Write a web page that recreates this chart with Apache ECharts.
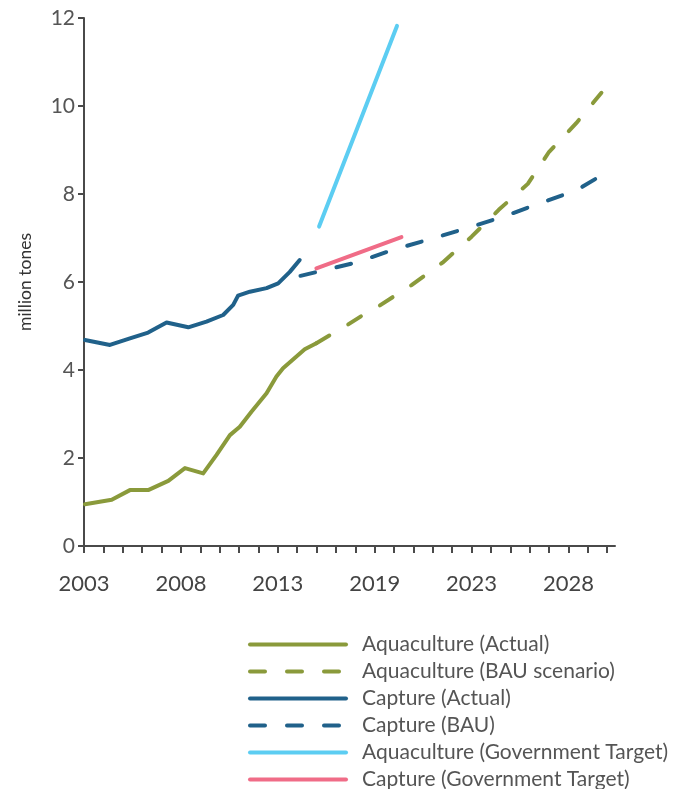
<!DOCTYPE html>
<html>
<head>
<meta charset="utf-8">
<script src="https://cdn.jsdelivr.net/npm/echarts@6/dist/echarts.min.js"></script>
<style>
html,body{margin:0;padding:0;background:#fff;}
#c{width:681px;height:789px;}
</style>
</head>
<body>
<div id="c"></div>
<script>
// ---- data (year, million tones) ----
const aquaActual = [
  [2003.05,0.95],[2004.43,1.05],[2005.37,1.27],[2006.31,1.27],[2007.35,1.48],
  [2008.21,1.77],[2009.15,1.65],[2009.84,2.07],[2010.53,2.52],[2011.04,2.71],
  [2011.64,3.05],[2012.42,3.47],[2012.93,3.85],[2013.27,4.04],[2014.39,4.47],[2014.99,4.61]
];
const aquaBAU = [
  [2014.99,4.61],[2016.5,5.0],[2017.4,5.25],[2018.2,5.45],[2019.9,5.93],[2021.5,6.44],
  [2023.0,7.03],[2024.4,7.64],[2025.9,8.23],[2027.0,8.96],[2028.4,9.61],[2029.7,10.30]
];
const captureActual = [
  [2003.05,4.68],[2004.34,4.57],[2005.37,4.72],[2006.31,4.85],[2007.26,5.08],
  [2008.38,4.97],[2009.32,5.10],[2010.18,5.25],[2010.70,5.48],[2010.95,5.69],
  [2011.56,5.78],[2012.42,5.86],[2013.02,5.97],[2013.62,6.23],[2014.13,6.50]
];
const captureBAU = [
  [2014.17,6.14],[2017.02,6.44],[2018.94,6.73],[2020.84,6.97],[2022.73,7.22],
  [2024.61,7.48],[2026.51,7.79],[2028.40,8.08],[2029.46,8.36]
];
const aquaTarget = [[2015.13,7.26],[2019.15,11.82]];
const captureTarget = [[2014.99,6.31],[2019.38,7.02]];

const xTickYears = [2003, 2008, 2013, 2018, 2023, 2028];
const xTickLabels = ['2003', '2008', '2013', '2019', '2023', '2028'];
const seriesNames = [
  'Aquaculture (Actual)', 'Aquaculture (BAU scenario)', 'Capture (Actual)',
  'Capture (BAU)', 'Aquaculture (Government Target)', 'Capture (Government Target)'
];

const GREEN = '#8a9a3b', DARK = '#20618a', LIGHT = '#5ccdf2', PINK = '#f06c87';
const FONT = 'Lato';

function mk(name, data, color, dashed, z) {
  return {
    name: name, type: 'line', data: data, symbol: 'none', smooth: false, z: z,
    lineStyle: { color: color, width: 4, cap: 'round', join: 'round',
                 type: dashed ? [15, 22] : 'solid' },
    itemStyle: { color: color },
    emphasis: { disabled: true }, animation: false
  };
}

const chart = echarts.init(document.getElementById('c'), null, { renderer: 'canvas' });
chart.setOption({
  backgroundColor: '#fff',
  animation: false,
  grid: { left: 84, right: 66, top: 18, bottom: 243, containLabel: false },
  xAxis: {
    type: 'value', min: 2003, max: 2030.4, interval: 1,
    axisLine: { show: true, onZero: false, lineStyle: { color: '#4a4a4a', width: 2 } },
    axisTick: { show: true, length: 7, lineStyle: { color: '#4a4a4a', width: 2 } },
    splitLine: { show: false },
    axisLabel: {
      margin: 27, color: '#444', fontSize: 22, fontFamily: FONT, showMaxLabel: false,
      formatter: function (v) {
        const i = xTickYears.indexOf(Math.round(v));
        return (i >= 0 && Math.abs(v - Math.round(v)) < 1e-6) ? xTickLabels[i] : '';
      }
    }
  },
  yAxis: {
    type: 'value', min: 0, max: 12, interval: 2,
    name: 'million tones', nameLocation: 'middle', nameGap: 50, nameRotate: 90,
    nameTextStyle: { color: '#333', fontSize: 17.5, fontFamily: FONT },
    axisLine: { show: true, lineStyle: { color: '#4a4a4a', width: 2 } },
    axisTick: { show: true, length: 6, lineStyle: { color: '#4a4a4a', width: 2 } },
    splitLine: { show: false },
    axisLabel: { margin: 9, color: '#555', fontSize: 21, fontFamily: FONT }
  },
  legend: {
    orient: 'vertical', left: 248, top: 634, height: 180, padding: 0,
    itemWidth: 96, itemHeight: 14, itemGap: 6,
    data: seriesNames,
    selectedMode: false,
    itemStyle: { color: 'rgba(0,0,0,0)', opacity: 0, borderWidth: 0 },
    lineStyle: { width: 4, cap: 'round' },
    textStyle: { color: '#555', fontSize: 21, fontFamily: FONT, padding: [0, 0, 0, 11] }
  },
  series: [
    mk(seriesNames[0], aquaActual, GREEN, false, 3),
    mk(seriesNames[1], aquaBAU, GREEN, true, 2),
    mk(seriesNames[2], captureActual, DARK, false, 3),
    mk(seriesNames[3], captureBAU, DARK, true, 2),
    mk(seriesNames[4], aquaTarget, LIGHT, false, 4),
    mk(seriesNames[5], captureTarget, PINK, false, 5)
  ]
});
</script>
</body>
</html>
